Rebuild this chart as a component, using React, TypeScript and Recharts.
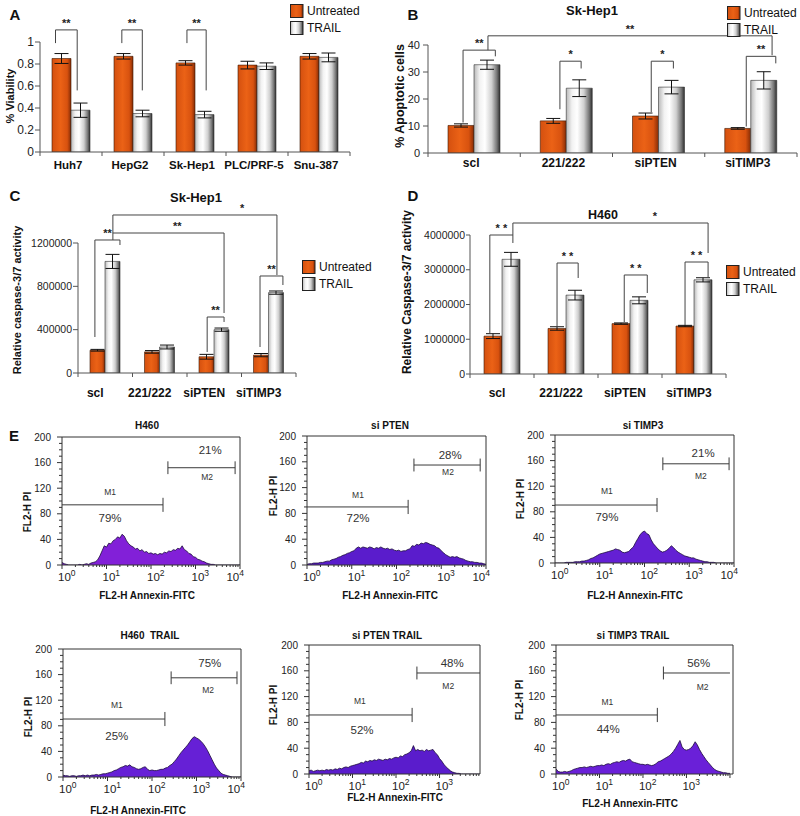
import React from 'react';
import {
  BarChart, Bar, XAxis, YAxis, ErrorBar, ReferenceLine, ReferenceDot, Legend,
  AreaChart, Area,
} from 'recharts';

const FONT = '"Liberation Sans", Arial, Helvetica, sans-serif';

// ================= Panel A : % Viability =================
const catsA = ['Huh7', 'HepG2', 'Sk-Hep1', 'PLC/PRF-5', 'Snu-387'];
const untreatedA = [0.85, 0.87, 0.81, 0.79, 0.87];
const untreatedErrA = [0.045, 0.025, 0.02, 0.035, 0.025];
const trailA = [0.38, 0.35, 0.34, 0.78, 0.86];
const trailErrA = [0.065, 0.03, 0.03, 0.03, 0.04];
const ticksA = [0, 0.2, 0.4, 0.6, 0.8, 1];

// ================= Panel B : % Apoptotic cells (Sk-Hep1) =================
const catsB = ['scl', '221/222', 'siPTEN', 'siTIMP3'];
const untreatedB = [10.2, 11.9, 13.7, 9.1];
const untreatedErrB = [0.6, 0.9, 1.1, 0.3];
const trailB = [32.7, 24.0, 24.4, 26.9];
const trailErrB = [1.7, 3.1, 2.5, 3.2];
const ticksB = [0, 10, 20, 30, 40];

// ================= Panel C : caspase-3/7 (Sk-Hep1) =================
const catsC = ['scl', '221/222', 'siPTEN', 'siTIMP3'];
const untreatedC = [210000, 195000, 150000, 165000];
const untreatedErrC = [8000, 12000, 22000, 15000];
const trailC = [1030000, 240000, 400000, 742000];
const trailErrC = [65000, 18000, 15000, 15000];
const ticksC = [0, 400000, 800000, 1200000];

// ================= Panel D : Caspase-3/7 (H460) =================
const catsD = ['scl', '221/222', 'siPTEN', 'siTIMP3'];
const untreatedD = [1090000, 1310000, 1450000, 1380000];
const untreatedErrD = [70000, 50000, 20000, 20000];
const trailD = [3300000, 2270000, 2120000, 2710000];
const trailErrD = [200000, 140000, 100000, 60000];
const ticksD = [0, 1000000, 2000000, 3000000, 4000000];

const seriesNames = ['Untreated', 'TRAIL'];
const seriesKeys = ['u', 't'];

// significance brackets, in data units (x = category index, y = value)
type Bracket = { x1: number; x2: number; top: number; left: number; right: number; label: string; lx?: number };
const bracketsA: Bracket[] = [
  { x1: -0.25, x2: 0.1, top: 1.11, left: 0.99, right: 0.56, label: '**' },
  { x1: 0.82, x2: 1.15, top: 1.11, left: 0.99, right: 0.56, label: '**' },
  { x1: 1.87, x2: 2.18, top: 1.11, left: 0.99, right: 0.56, label: '**' },
];
const bracketsB: Bracket[] = [
  { x1: -0.12, x2: 0.23, top: 38.1, left: 11.3, right: 35.8, label: '**' },
  { x1: 0.15, x2: 3.23, top: 43.4, left: 38.1, right: 36.2, label: '**' },
  { x1: 0.93, x2: 1.16, top: 34, left: 16.2, right: 31.3, label: '*' },
  { x1: 1.92, x2: 2.16, top: 34, left: 15.1, right: 31.3, label: '*' },
  { x1: 2.95, x2: 3.27, top: 35.8, left: 9.8, right: 33.2, label: '**' },
];
const bracketsC: Bracket[] = [
  { x1: -0.19, x2: 0.27, top: 1227700, left: 332300, right: 1181500, label: '**' },
  { x1: 0.14, x2: 2.18, top: 1292300, left: 1227700, right: 553800, label: '**', lx: 1.32 },
  { x1: 0.14, x2: 3.15, top: 1458500, left: 1292300, right: 904600, label: '*', lx: 2.51 },
  { x1: 1.87, x2: 2.18, top: 516900, left: 193800, right: 470800, label: '**' },
  { x1: 2.84, x2: 3.26, top: 895400, left: 240000, right: 812300, label: '**' },
];
const bracketsD: Bracket[] = [
  { x1: -0.19, x2: 0.17, top: 4000000, left: 1180000, right: 3770000, label: '* *' },
  { x1: 0.17, x2: 3.22, top: 4345000, left: 4000000, right: 3482000, label: '*', lx: 2.39 },
  { x1: 0.86, x2: 1.19, top: 3194000, left: 1352000, right: 2763000, label: '* *' },
  { x1: 1.91, x2: 2.27, top: 2849000, left: 1496000, right: 2331000, label: '* *' },
  { x1: 2.86, x2: 3.22, top: 3223000, left: 1410000, right: 2763000, label: '* *' },
];

// ================= Panel E : flow cytometry histograms =================
// bins in log10(fluorescence), 0.05 decade wide
const logBins = Array.from({ length: 81 }, (_, i) => i * 0.05);

const histH460 = [
  4, 2, 1, 0, 0, 0, 0, 0, 1, 0,
  1, 2, 1, 3, 4, 5, 8, 14, 22, 30,
  28, 34, 33, 38, 40, 44, 42, 48, 45, 38,
  33, 30, 28, 25, 26, 22, 24, 20, 21, 18,
  19, 17, 18, 16, 18, 17, 20, 19, 22, 21,
  24, 23, 26, 25, 30, 24, 22, 18, 17, 13,
  12, 9, 8, 6, 5, 3, 2, 1, 1, 0,
  0, 0, 0, 0, 0, 0, 0, 0, 0, 0,
  0,
];
const histSiPTEN = [
  1, 2, 2, 3, 3, 3, 4, 4, 5, 6,
  6, 8, 9, 10, 12, 13, 15, 16, 18, 19,
  21, 22, 26, 28, 26, 28, 27, 26, 28, 27,
  25, 27, 26, 28, 26, 25, 26, 24, 25, 23,
  22, 23, 21, 22, 22, 24, 25, 30, 29, 32,
  31, 34, 33, 35, 34, 32, 31, 30, 27, 26,
  22, 19, 16, 14, 12, 13, 12, 13, 11, 10,
  9, 7, 6, 5, 5, 4, 4, 3, 3, 2,
  1,
];
const histSiTIMP3 = [
  0, 0, 0, 0, 0, 1, 1, 1, 1, 2,
  2, 2, 3, 3, 4, 5, 7, 8, 10, 12,
  14, 15, 16, 17, 18, 19, 20, 22, 21, 20,
  17, 16, 17, 18, 22, 25, 32, 38, 44, 48,
  50, 46, 44, 36, 30, 26, 22, 19, 17, 18,
  20, 23, 27, 24, 20, 17, 15, 13, 11, 10,
  9, 8, 8, 6, 5, 4, 3, 2, 2, 1,
  1, 1, 0, 0, 0, 0, 0, 0, 0, 0,
  0,
];
const histH460Trail = [
  3, 2, 2, 1, 2, 2, 1, 2, 2, 3,
  2, 3, 2, 3, 3, 4, 3, 4, 5, 5,
  6, 7, 8, 10, 11, 13, 15, 16, 18, 17,
  19, 16, 15, 13, 12, 13, 15, 16, 12, 10,
  11, 10, 10, 11, 12, 12, 14, 15, 18, 20,
  24, 28, 33, 38, 42, 46, 50, 55, 60, 63,
  61, 59, 56, 52, 47, 41, 34, 27, 20, 14,
  10, 6, 4, 3, 2, 1, 0, 0, 0, 0,
  0,
];
const histSiPTENTrail = [
  5, 6, 4, 5, 6, 5, 6, 5, 7, 6,
  7, 6, 8, 7, 9, 8, 10, 11, 10, 12,
  13, 14, 15, 16, 18, 17, 20, 19, 21, 20,
  22, 21, 23, 22, 21, 23, 22, 24, 23, 25,
  26, 25, 28, 27, 30, 31, 33, 36, 44, 36,
  38, 36, 37, 35, 38, 36, 37, 38, 33, 30,
  24, 20, 15, 11, 8, 5, 3, 2, 1, 1,
  0, 0, 0, 0, 0, 0, 0, 0, 0, 0,
  0,
];
const histSiTIMP3Trail = [
  8, 4, 3, 3, 4, 3, 4, 5, 7, 8,
  9, 10, 10, 11, 10, 11, 12, 11, 12, 13,
  13, 14, 13, 15, 16, 15, 17, 18, 19, 18,
  20, 21, 20, 22, 23, 19, 18, 17, 16, 15,
  15, 14, 15, 14, 13, 14, 16, 19, 20, 22,
  24, 26, 28, 31, 35, 40, 46, 52, 42, 38,
  37, 38, 40, 44, 50, 45, 38, 32, 27, 22,
  18, 14, 10, 7, 5, 4, 3, 2, 2, 1,
  1,
];

// marker gates (M1, M2): x in log10 units, y in counts
type Gate = { m1End: number; m1Y: number; m2Start: number; m2End: number; m2Y: number; m2RightTick: boolean };
type GateLabel = { x: number; y: number; text: string; small?: boolean };

const gateH460: Gate = { m1End: 2.27, m1Y: 94, m2Start: 2.38, m2End: 3.89, m2Y: 152, m2RightTick: true };
const gateSiPTEN: Gate = { m1End: 2.26, m1Y: 90, m2Start: 2.39, m2End: 3.87, m2Y: 155, m2RightTick: true };
const gateSiTIMP3: Gate = { m1End: 2.28, m1Y: 90.6, m2Start: 2.41, m2End: 3.89, m2Y: 155, m2RightTick: true };
const gateH460Trail: Gate = { m1End: 2.29, m1Y: 90.6, m2Start: 2.43, m2End: 3.91, m2Y: 155, m2RightTick: true };
const gateSiPTENTrail: Gate = { m1End: 2.37, m1Y: 91.5, m2Start: 2.48, m2End: 3.93, m2Y: 156.6, m2RightTick: false };
const gateSiTIMP3Trail: Gate = { m1End: 2.33, m1Y: 91.5, m2Start: 2.47, m2End: 4.0, m2Y: 156.6, m2RightTick: false };

const labelsH460: GateLabel[] = [
  { x: 1.08, y: 114, text: 'M1', small: true }, { x: 1.08, y: 73, text: '79%' },
  { x: 3.33, y: 180, text: '21%' }, { x: 3.26, y: 137.5, text: 'M2', small: true },
];
const labelsSiPTEN: GateLabel[] = [
  { x: 1.14, y: 108.5, text: 'M1', small: true }, { x: 1.14, y: 73, text: '72%' },
  { x: 3.2, y: 170, text: '28%' }, { x: 3.15, y: 144, text: 'M2', small: true },
];
const labelsSiTIMP3: GateLabel[] = [
  { x: 1.16, y: 112.5, text: 'M1', small: true }, { x: 1.16, y: 72, text: '79%' },
  { x: 3.31, y: 172, text: '21%' }, { x: 3.26, y: 136, text: 'M2', small: true },
];
const labelsH460Trail: GateLabel[] = [
  { x: 1.21, y: 112.5, text: 'M1', small: true }, { x: 1.21, y: 64, text: '25%' },
  { x: 3.3, y: 178, text: '75%' }, { x: 3.26, y: 136, text: 'M2', small: true },
];
const labelsSiPTENTrail: GateLabel[] = [
  { x: 1.17, y: 113, text: 'M1', small: true }, { x: 1.22, y: 68, text: '52%' },
  { x: 3.29, y: 172, text: '48%' }, { x: 3.2, y: 136, text: 'M2', small: true },
];
const labelsSiTIMP3Trail: GateLabel[] = [
  { x: 1.18, y: 111.6, text: 'M1', small: true }, { x: 1.2, y: 70, text: '44%' },
  { x: 3.28, y: 172, text: '56%' }, { x: 3.37, y: 135, text: 'M2', small: true },
];

// ================= helpers =================
type Box = { left: number; top: number; width: number; height: number };
type Plot = { L: number; R: number; T: number; B: number };

function Gradients({ id }: { id: string }) {
  return (
    <defs>
      <linearGradient id={`${id}-gu`} x1="0" y1="0" x2="1" y2="0">
        <stop offset="0%" stopColor="#d4500f" />
        <stop offset="45%" stopColor="#eb6216" />
        <stop offset="80%" stopColor="#d8520f" />
        <stop offset="100%" stopColor="#862c05" />
      </linearGradient>
      <linearGradient id={`${id}-gt`} x1="0" y1="0" x2="1" y2="0">
        <stop offset="0%" stopColor="#b8b8b8" />
        <stop offset="22%" stopColor="#f2f2f2" />
        <stop offset="42%" stopColor="#ffffff" />
        <stop offset="68%" stopColor="#cfcfcf" />
        <stop offset="88%" stopColor="#767676" />
        <stop offset="100%" stopColor="#2e2e2e" />
      </linearGradient>
    </defs>
  );
}

function LegendContent({ payload, id, row, fontSize }: any) {
  const list: any[] = Array.isArray(payload) ? payload : [];
  const names = seriesKeys.map((k, i) => {
    const e = list.find((q: any) => q && q.dataKey === k);
    return e ? String(e.value) : seriesNames[i];
  });
  return (
    <div style={{ fontFamily: FONT, fontSize, color: '#111' }}>
      {names.map((nm, i) => (
        <div key={nm} style={{ display: 'flex', alignItems: 'center', height: row }}>
          <svg width={14} height={14} style={{ display: 'block' }}>
            <Gradients id={`${id}-lg`} />
            <rect x={0.5} y={0.5} width={12.5} height={13} fill={`url(#${id}-lg-${i === 0 ? 'gu' : 'gt'})`} stroke="#222" strokeWidth={1} />
          </svg>
          <span style={{ marginLeft: 3, lineHeight: 1 }}>{nm}</span>
        </div>
      ))}
    </div>
  );
}

type BarPanelProps = {
  id: string; box: Box; plot: Plot; cats: string[];
  u: number[]; ue: number[]; t: number[]; te: number[];
  domain: [number, number]; ticks: number[]; barSize: number;
  yFont: number; yTickSize: number; yTickMargin: number;
  catFont: number; catDx: number; catDy: number;
  brackets: Bracket[]; legend: { x: number; y: number; row: number };
};

function BarPanel(p: BarPanelProps) {
  const n = p.cats.length;
  const stepPx = (p.plot.R - p.plot.L) / n;
  const data = p.cats.map((c, i) => ({ x: i, name: c, u: p.u[i], ue: p.ue[i], t: p.t[i], te: p.te[i] }));
  const yW = p.plot.L - p.box.left;
  const mTop = p.plot.T - p.box.top;
  const mRight = p.box.left + p.box.width - p.plot.R;
  const xH = p.box.top + p.box.height - p.plot.B;
  const renderCatTick = (tp: any) => {
    const i = Math.round(tp.payload.value);
    return (
      <g>
        <line x1={tp.x - stepPx / 2} x2={tp.x - stepPx / 2} y1={tp.y} y2={tp.y + 4} stroke="#555" />
        {i === n - 1 && <line x1={tp.x + stepPx / 2} x2={tp.x + stepPx / 2} y1={tp.y} y2={tp.y + 4} stroke="#555" />}
        <text x={tp.x + p.catDx} y={tp.y + p.catDy} dy="0.35em" textAnchor="middle" fontSize={p.catFont}
          fontWeight="bold" fill="#111" fontFamily={FONT}>{p.cats[i]}</text>
      </g>
    );
  };
  const lineStyle = { stroke: '#444', strokeWidth: 1 };
  return (
    <div style={{ position: 'absolute', left: p.box.left, top: p.box.top }}>
      <BarChart width={p.box.width} height={p.box.height} data={data}
        margin={{ top: mTop, right: mRight, bottom: 0, left: 0 }} barGap={0}>
        <Gradients id={p.id} />
        <XAxis dataKey="x" type="number" domain={[-0.5, n - 0.5]} allowDataOverflow
          ticks={p.cats.map((_, i) => i)} interval={0} height={xH}
          tickSize={0} tickMargin={0} tickLine={false} axisLine={{ stroke: '#555' }} tick={renderCatTick} />
        <YAxis type="number" domain={p.domain} ticks={p.ticks} interval={0} width={yW} allowDataOverflow
          tickSize={p.yTickSize} tickMargin={p.yTickMargin} axisLine={{ stroke: '#555' }} tickLine={{ stroke: '#555' }}
          tick={{ fontSize: p.yFont, fill: '#222', fontFamily: FONT }} />
        <Bar dataKey="u" name={seriesNames[0]} barSize={p.barSize} fill={`url(#${p.id}-gu)`} stroke="#3a1804" strokeWidth={0.6} isAnimationActive={false}>
          <ErrorBar dataKey="ue" direction="y" width={7} stroke="#111" strokeWidth={1} />
        </Bar>
        <Bar dataKey="t" name={seriesNames[1]} barSize={p.barSize} fill={`url(#${p.id}-gt)`} stroke="#333" strokeWidth={0.6} isAnimationActive={false}>
          <ErrorBar dataKey="te" direction="y" width={7} stroke="#111" strokeWidth={1} />
        </Bar>
        {p.brackets.map((b, k) => (
          <ReferenceLine key={`l${k}`} segment={[{ x: b.x1, y: b.left }, { x: b.x1, y: b.top }]} ifOverflow="visible" {...lineStyle} />
        ))}
        {p.brackets.map((b, k) => (
          <ReferenceLine key={`t${k}`} segment={[{ x: b.x1, y: b.top }, { x: b.x2, y: b.top }]} ifOverflow="visible" {...lineStyle} />
        ))}
        {p.brackets.map((b, k) => (
          <ReferenceLine key={`r${k}`} segment={[{ x: b.x2, y: b.top }, { x: b.x2, y: b.right }]} ifOverflow="visible" {...lineStyle} />
        ))}
        {p.brackets.map((b, k) => (
          <ReferenceDot key={`s${k}`} x={b.lx ?? (b.x1 + b.x2) / 2} y={b.top} r={0} fill="none" stroke="none" ifOverflow="visible"
            label={{ value: b.label, position: 'top', offset: 3, fontSize: 11, fontWeight: 'bold', fill: '#222', fontFamily: FONT }} />
        ))}
        <Legend layout="vertical" align="center" verticalAlign="middle"
          wrapperStyle={{ position: 'absolute', left: p.legend.x - p.box.left, top: p.legend.y - p.box.top, width: 'auto', height: 'auto' }}
          content={(lp: any) => <LegendContent payload={lp.payload} id={p.id} row={p.legend.row} fontSize={12} />} />
      </BarChart>
    </div>
  );
}

type HistProps = {
  id: string; box: Box; plot: Plot; values: number[]; dmax: number; majorMax: number;
  gate: Gate; labels: GateLabel[]; color: string;
};

function HistPanel(p: HistProps) {
  const data = logBins.map((x, i) => ({ x, v: p.values[i] }));
  const yW = p.plot.L - p.box.left;
  const mTop = p.plot.T - p.box.top;
  const mRight = p.box.left + p.box.width - p.plot.R;
  const xH = p.box.top + p.box.height - p.plot.B;
  const xTicks: number[] = [];
  for (let d = 0; d <= 3; d++) {
    xTicks.push(d);
    for (let k = 2; k <= 9; k++) {
      const tv = d + Math.log10(k);
      if (tv <= p.dmax) xTicks.push(tv);
    }
  }
  if (p.dmax >= 4) xTicks.push(4);
  const yTicks = Array.from({ length: 21 }, (_, i) => i * 10);
  const renderXTick = (tp: any) => {
    const v = tp.payload.value;
    const major = Math.abs(v - Math.round(v)) < 1e-6;
    const showLabel = major && Math.round(v) <= p.majorMax;
    const atEnd = Math.round(v) === 4;
    return (
      <g>
        <line x1={tp.x} x2={tp.x} y1={tp.y} y2={tp.y + (major ? 4 : 2)} stroke="#333" />
        {showLabel && (
          <text x={atEnd ? tp.x + 4 : tp.x - 4} y={tp.y + 16} textAnchor={atEnd ? 'end' : 'start'}
            fontSize={11.5} fill="#222" fontFamily={FONT}>
            10<tspan dy={-5} fontSize={8.5}>{Math.round(v)}</tspan>
          </text>
        )}
      </g>
    );
  };
  const renderYTick = (tp: any) => {
    const v = tp.payload.value;
    const major = v % 40 === 0;
    return (
      <g>
        <line x1={tp.x - (major ? 5 : 3)} x2={tp.x} y1={tp.y} y2={tp.y} stroke="#333" />
        {major && (
          <text x={tp.x - 11} y={tp.y} dy="0.35em" textAnchor="end" fontSize={10} fill="#222" fontFamily={FONT}>{v}</text>
        )}
      </g>
    );
  };
  const g = p.gate;
  const gs = { stroke: '#3a3a3a', strokeWidth: 1 };
  return (
    <div style={{ position: 'absolute', left: p.box.left, top: p.box.top }}>
      <AreaChart width={p.box.width} height={p.box.height} data={data}
        margin={{ top: mTop, right: mRight, bottom: 0, left: 0 }}>
        <XAxis dataKey="x" type="number" domain={[0, p.dmax]} allowDataOverflow ticks={xTicks} interval={0}
          height={xH} tickSize={0} tickMargin={0} tickLine={false} axisLine={{ stroke: '#333' }} tick={renderXTick} />
        <YAxis type="number" domain={[0, 200]} allowDataOverflow ticks={yTicks} interval={0} width={yW}
          tickSize={0} tickMargin={0} tickLine={false} axisLine={{ stroke: '#333' }} tick={renderYTick} />
        <Area type="linear" dataKey="v" stroke="#1c0b3c" strokeWidth={0.8} fill={p.color} fillOpacity={1}
          isAnimationActive={false} dot={false} activeDot={false} />
        <ReferenceLine y={200} stroke="#333" ifOverflow="visible" />
        <ReferenceLine x={p.dmax} stroke="#333" ifOverflow="visible" />
        <ReferenceLine segment={[{ x: 0, y: g.m1Y }, { x: g.m1End, y: g.m1Y }]} ifOverflow="visible" {...gs} />
        <ReferenceLine segment={[{ x: g.m1End, y: g.m1Y - 11 }, { x: g.m1End, y: g.m1Y + 11 }]} ifOverflow="visible" {...gs} />
        <ReferenceLine segment={[{ x: g.m2Start, y: g.m2Y }, { x: g.m2End, y: g.m2Y }]} ifOverflow="visible" {...gs} />
        <ReferenceLine segment={[{ x: g.m2Start, y: g.m2Y - 10 }, { x: g.m2Start, y: g.m2Y + 10 }]} ifOverflow="visible" {...gs} />
        {g.m2RightTick && (
          <ReferenceLine segment={[{ x: g.m2End, y: g.m2Y - 10 }, { x: g.m2End, y: g.m2Y + 10 }]} ifOverflow="visible" {...gs} />
        )}
        {p.labels.map((l, k) => (
          <ReferenceDot key={k} x={l.x} y={l.y} r={0} fill="none" stroke="none" ifOverflow="visible"
            label={{ value: l.text, position: 'center', fontSize: l.small ? 8.5 : 11.5, fill: '#333', fontFamily: FONT }} />
        ))}
      </AreaChart>
    </div>
  );
}

// ================= static text (panel letters, titles, axis titles) =================
type T = { x: number; y: number; s: string; size: number; rot?: boolean; bold?: boolean };
const texts: T[] = [
  { x: 15, y: 15, s: 'A', size: 15, bold: true },
  { x: 413, y: 15, s: 'B', size: 15, bold: true },
  { x: 15, y: 196, s: 'C', size: 15, bold: true },
  { x: 413, y: 196, s: 'D', size: 15, bold: true },
  { x: 14, y: 436, s: 'E', size: 15, bold: true },
  { x: 592, y: 10, s: 'Sk-Hep1', size: 13, bold: true },
  { x: 196, y: 197, s: 'Sk-Hep1', size: 13, bold: true },
  { x: 603, y: 215, s: 'H460', size: 12.5, bold: true },
  { x: 10, y: 96, s: '% Viability', size: 11, bold: true, rot: true },
  { x: 400, y: 96, s: '% Apoptotic cells', size: 12.5, bold: true, rot: true },
  { x: 17, y: 300, s: 'Relative caspase-3/7 activity', size: 11, bold: true, rot: true },
  { x: 407, y: 292, s: 'Relative Caspase-3/7 activity', size: 12, bold: true, rot: true },
  { x: 147, y: 425, s: 'H460', size: 10, bold: true },
  { x: 390, y: 425, s: 'si PTEN', size: 10, bold: true },
  { x: 643, y: 425, s: 'si TIMP3', size: 10, bold: true },
  { x: 150, y: 635, s: 'H460  TRAIL', size: 10, bold: true },
  { x: 387, y: 635, s: 'si PTEN TRAIL', size: 10, bold: true },
  { x: 633, y: 635, s: 'si TIMP3 TRAIL', size: 10, bold: true },
  { x: 147, y: 595, s: 'FL2-H Annexin-FITC', size: 10, bold: true },
  { x: 390, y: 595, s: 'FL2-H Annexin-FITC', size: 10, bold: true },
  { x: 635, y: 595, s: 'FL2-H Annexin-FITC', size: 10, bold: true },
  { x: 138, y: 810, s: 'FL2-H Annexin-FITC', size: 10, bold: true },
  { x: 395, y: 797, s: 'FL2-H Annexin-FITC', size: 10, bold: true },
  { x: 630, y: 803, s: 'FL2-H Annexin-FITC', size: 10, bold: true },
  { x: 27, y: 512, s: 'FL2-H PI', size: 10, bold: true, rot: true },
  { x: 273, y: 496, s: 'FL2-H PI', size: 10, bold: true, rot: true },
  { x: 520, y: 499, s: 'FL2-H PI', size: 10, bold: true, rot: true },
  { x: 28, y: 717, s: 'FL2-H PI', size: 10, bold: true, rot: true },
  { x: 273, y: 705, s: 'FL2-H PI', size: 10, bold: true, rot: true },
  { x: 519, y: 700, s: 'FL2-H PI', size: 10, bold: true, rot: true },
];

export default function App() {
  return (
    <div style={{ position: 'absolute', left: 0, top: 0, width: 800, height: 816, background: '#fff', fontFamily: FONT, overflow: 'hidden' }}>
      <BarPanel id="pa" box={{ left: 0, top: 0, width: 400, height: 200 }} plot={{ L: 40, R: 350, T: 42, B: 152 }}
        cats={catsA} u={untreatedA} ue={untreatedErrA} t={trailA} te={trailErrA}
        domain={[0, 1]} ticks={ticksA} barSize={19} yFont={12} yTickSize={5} yTickMargin={1}
        catFont={11.5} catDx={-3} catDy={13} brackets={bracketsA} legend={{ x: 290, y: 2, row: 17 }} />
      <BarPanel id="pb" box={{ left: 400, top: 0, width: 400, height: 200 }} plot={{ L: 428, R: 797, T: 45, B: 153 }}
        cats={catsB} u={untreatedB} ue={untreatedErrB} t={trailB} te={trailErrB}
        domain={[0, 40]} ticks={ticksB} barSize={26} yFont={11} yTickSize={5} yTickMargin={3}
        catFont={12} catDx={-3} catDy={10} brackets={bracketsB} legend={{ x: 727, y: 4, row: 17 }} />
      <BarPanel id="pc" box={{ left: 0, top: 200, width: 400, height: 215 }} plot={{ L: 78, R: 296, T: 243, B: 373 }}
        cats={catsC} u={untreatedC} ue={untreatedErrC} t={trailC} te={trailErrC}
        domain={[0, 1200000]} ticks={ticksC} barSize={15} yFont={10.5} yTickSize={5} yTickMargin={1}
        catFont={12} catDx={-10} catDy={20} brackets={bracketsC} legend={{ x: 302, y: 258, row: 17.5 }} />
      <BarPanel id="pd" box={{ left: 400, top: 200, width: 400, height: 215 }} plot={{ L: 470, R: 726, T: 235, B: 374 }}
        cats={catsD} u={untreatedD} ue={untreatedErrD} t={trailD} te={trailErrD}
        domain={[0, 4000000]} ticks={ticksD} barSize={18} yFont={10.5} yTickSize={4} yTickMargin={1}
        catFont={12} catDx={-5} catDy={19} brackets={bracketsD} legend={{ x: 726, y: 263, row: 17.5 }} />

      <HistPanel id="h1" box={{ left: 0, top: 415, width: 270, height: 200 }} plot={{ L: 62, R: 240, T: 437, B: 565 }}
        values={histH460} dmax={4} majorMax={4} gate={gateH460} labels={labelsH460} color="#8220d8" />
      <HistPanel id="h2" box={{ left: 270, top: 415, width: 250, height: 200 }} plot={{ L: 307, R: 486, T: 436, B: 565 }}
        values={histSiPTEN} dmax={4} majorMax={4} gate={gateSiPTEN} labels={labelsSiPTEN} color="#5a1ccc" />
      <HistPanel id="h3" box={{ left: 515, top: 415, width: 285, height: 200 }} plot={{ L: 555, R: 734, T: 435, B: 563 }}
        values={histSiTIMP3} dmax={4} majorMax={4} gate={gateSiTIMP3} labels={labelsSiTIMP3} color="#6420d4" />
      <HistPanel id="h4" box={{ left: 0, top: 620, width: 270, height: 196 }} plot={{ L: 63, R: 241, T: 649, B: 777 }}
        values={histH460Trail} dmax={4} majorMax={4} gate={gateH460Trail} labels={labelsH460Trail} color="#6620d6" />
      <HistPanel id="h5" box={{ left: 270, top: 620, width: 250, height: 196 }} plot={{ L: 309, R: 480, T: 645, B: 774 }}
        values={histSiPTENTrail} dmax={3.93} majorMax={3} gate={gateSiPTENTrail} labels={labelsSiPTENTrail} color="#5a1ccc" />
      <HistPanel id="h6" box={{ left: 515, top: 620, width: 285, height: 196 }} plot={{ L: 556, R: 733, T: 645, B: 774 }}
        values={histSiTIMP3Trail} dmax={4.07} majorMax={3} gate={gateSiTIMP3Trail} labels={labelsSiTIMP3Trail} color="#6a20d8" />

      <svg width={800} height={816} style={{ position: 'absolute', left: 0, top: 0, pointerEvents: 'none' }}>
        {texts.map((t, i) => (
          <text key={i} x={t.x} y={t.y} dy="0.35em" textAnchor="middle" fontSize={t.size}
            fontWeight={t.bold ? 'bold' : 'normal'} fill="#111" fontFamily={FONT}
            style={{ whiteSpace: 'pre' }}
            transform={t.rot ? `rotate(-90 ${t.x} ${t.y})` : undefined}>{t.s}</text>
        ))}
      </svg>
    </div>
  );
}
